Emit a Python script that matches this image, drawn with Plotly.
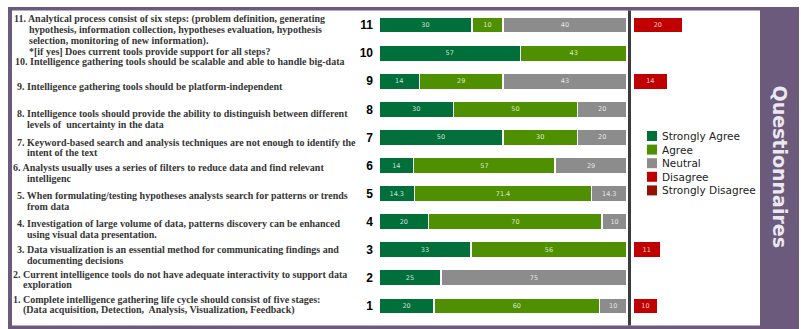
import plotly.graph_objects as go

# ---------------- data ----------------
questions = list(range(1, 12))
strongly_agree = [20, 25, 33, 20, 14.3, 14, 50, 30, 14, 57, 30]
agree = [60, 0, 56, 70, 71.4, 57, 30, 50, 29, 43, 10]
neutral = [10, 75, 0, 10, 14.3, 29, 20, 20, 43, 0, 40]
disagree = [10, 0, 11, 0, 0, 0, 0, 0, 14, 0, 20]
strongly_disagree = [0, 0, 0, 0, 0, 0, 0, 0, 0, 0, 0]

categories = ["Strongly Agree", "Agree", "Neutral", "Disagree", "Strongly Disagree"]
colors = ["#006F3A", "#4F9000", "#8C8C8C", "#C00000", "#961200"]

question_lines = [
    ["1. Complete intelligence gathering life cycle should consist of five stages:",
     "(Data acquisition, Detection,  Analysis, Visualization, Feedback)"],
    ["2. Current intelligence tools do not have adequate interactivity to support data",
     "exploration"],
    ["3. Data visualization is an essential method for communicating findings and",
     "documenting decisions"],
    ["4. Investigation of large volume of data, patterns discovery can be enhanced",
     "using visual data presentation."],
    ["5. When formulating/testing hypotheses analysts search for patterns or trends",
     "from data"],
    ["6. Analysts usually uses a series of filters to reduce data and find relevant",
     "intelligenc"],
    ["7. Keyword-based search and analysis techniques are not enough to identify the",
     "intent of the text"],
    ["8. Intelligence tools should provide the ability to distinguish between different",
     "levels of  uncertainty in the data"],
    ["9. Intelligence gathering tools should be platform-independent"],
    ["10. Intelligence gathering tools should be scalable and able to handle big-data"],
    ["11. Analytical process consist of six steps: (problem definition, generating",
     "hypothesis, information collection, hypotheses evaluation, hypothesis",
     "selection, monitoring of new information).",
     "*[if yes] Does current tools provide support for all steps?"],
]
side_title = "Questionnaires"

# ---------------- layout helpers (pixels) ----------------
W, H = 801, 329
def px(x):
    return x / W
def py(y):
    return 1 - y / H

PURPLE = "#6B5A7B"
row_top, row_bottom = 25, 306
pitch = (row_bottom - row_top) / 10.0
y_dom_bottom = row_bottom + pitch / 2
y_dom_top = row_top - pitch / 2
bar_left, bar_right = 379, 627
dis_left = 633
scale_px = (bar_right - bar_left) / 100.0

# label layout: first-line centre y, first-line x, continuation x, line gap
label_layout = [
    (299, 13, 23, 10.5),
    (274, 13, 23, 10.5),
    (249, 17, 27, 11),
    (223, 17, 27, 11),
    (195, 17, 27, 11),
    (167, 13, 27, 11),
    (142, 17, 27, 11),
    (113, 17, 27, 11.5),
    (87, 17, 27, 11),
    (62, 15, 27, 11),
    (19, 14, 29, 10.8),
]

# ---------------- figure ----------------
pos_total = [a + b + c for a, b, c in zip(strongly_agree, agree, neutral)]
fig = go.Figure()

def fmt(v):
    return f"{v:g}" if v else ""

for name, vals, col in zip(categories[:3], [strongly_agree, agree, neutral], colors[:3]):
    share = [v / t * 100 if v else None for v, t in zip(vals, pos_total)]
    fig.add_trace(go.Bar(
        y=questions, x=share, orientation="h", name=name,
        marker=dict(color=col, line=dict(color="white", width=1.5)),
        width=0.58, text=[fmt(v) for v in vals], textposition="inside",
        insidetextanchor="middle", textangle=0,
        textfont=dict(family="DejaVu Sans", size=6.5, color="rgba(255,255,255,0.8)"),
        xaxis="x", yaxis="y", hoverinfo="skip", cliponaxis=False,
    ))

for name, vals, col in zip(categories[3:], [disagree, strongly_disagree], colors[3:]):
    share = [v if v else None for v in vals]
    fig.add_trace(go.Bar(
        y=questions, x=share, orientation="h", name=name,
        marker=dict(color=col, line=dict(color="white", width=1.5)),
        width=0.58, text=[fmt(v) for v in vals], textposition="inside",
        insidetextanchor="middle", textangle=0,
        textfont=dict(family="DejaVu Sans", size=6.5, color="rgba(255,255,255,0.8)"),
        xaxis="x2", yaxis="y", hoverinfo="skip", cliponaxis=False,
    ))

shapes = [
    # frame
    dict(type="rect", xref="paper", yref="paper", x0=px(8), x1=px(12), y0=py(329), y1=py(7),
         fillcolor=PURPLE, line_width=0, layer="below"),
    dict(type="rect", xref="paper", yref="paper", x0=px(8), x1=px(760), y0=py(10.5), y1=py(7),
         fillcolor=PURPLE, line_width=0, layer="below"),
    dict(type="rect", xref="paper", yref="paper", x0=px(8), x1=px(760), y0=py(329), y1=py(325.5),
         fillcolor=PURPLE, line_width=0, layer="below"),
    dict(type="rect", xref="paper", yref="paper", x0=px(760), x1=px(799), y0=py(329), y1=py(7),
         fillcolor=PURPLE, line_width=0, layer="below"),
    # divider
    dict(type="rect", xref="paper", yref="paper", x0=px(628), x1=px(631), y0=py(325.5), y1=py(10.5),
         fillcolor="#3C3C3C", line_width=0, layer="below"),
]

annotations = []
for lines, (y0, x0, x1, gap) in zip(question_lines, label_layout):
    for i, line in enumerate(lines):
        annotations.append(dict(
            xref="paper", yref="paper", x=px((x0 if i == 0 else x1) - 1), y=py(y0 + i * gap),
            xanchor="left", yanchor="middle", showarrow=False, text=f"<b>{line}</b>",
            font=dict(family="Liberation Serif", size=10, color="#363636"), borderpad=0,
        ))

# legend
leg_y0, leg_gap = 136, 13.6
for i, (name, col) in enumerate(zip(categories, colors)):
    cy = leg_y0 + i * leg_gap
    shapes.append(dict(type="rect", xref="paper", yref="paper", x0=px(647), x1=px(657),
                       y0=py(cy + 5), y1=py(cy - 5), fillcolor=col, line_width=0))
    annotations.append(dict(xref="paper", yref="paper", x=px(661), y=py(cy), xanchor="left",
                            yanchor="middle", showarrow=False, text=name, borderpad=0,
                            font=dict(family="DejaVu Sans", size=10.5, color="#222222")))

annotations.append(dict(xref="paper", yref="paper", x=px(779.5), y=py(166), textangle=90,
                        xanchor="center", yanchor="middle",
                        showarrow=False, text=f"<b>{side_title}</b>",
                        font=dict(family="DejaVu Sans", size=19, color="#ECE8F0")))

fig.update_layout(
    width=W, height=H, margin=dict(l=0, r=0, t=0, b=0),
    paper_bgcolor="white", plot_bgcolor="rgba(0,0,0,0)",
    barmode="stack", showlegend=False,
    xaxis=dict(domain=[px(bar_left), px(bar_right)], range=[0, 100], visible=False, fixedrange=True),
    xaxis2=dict(domain=[px(dis_left), px(dis_left + 40 * scale_px)], range=[0, 40],
                visible=False, anchor="y", fixedrange=True),
    yaxis=dict(domain=[py(y_dom_bottom), py(y_dom_top)], range=[0.5, 11.5],
               tickvals=questions, ticktext=[f"<b>{q}</b>" for q in questions],
               showgrid=False, zeroline=False, showline=False, ticks="",
               ticklabelstandoff=5,
               tickfont=dict(family="Liberation Sans", size=12, color="black"), fixedrange=True),
    shapes=shapes, annotations=annotations,
)

fig.write_html("out.html")
